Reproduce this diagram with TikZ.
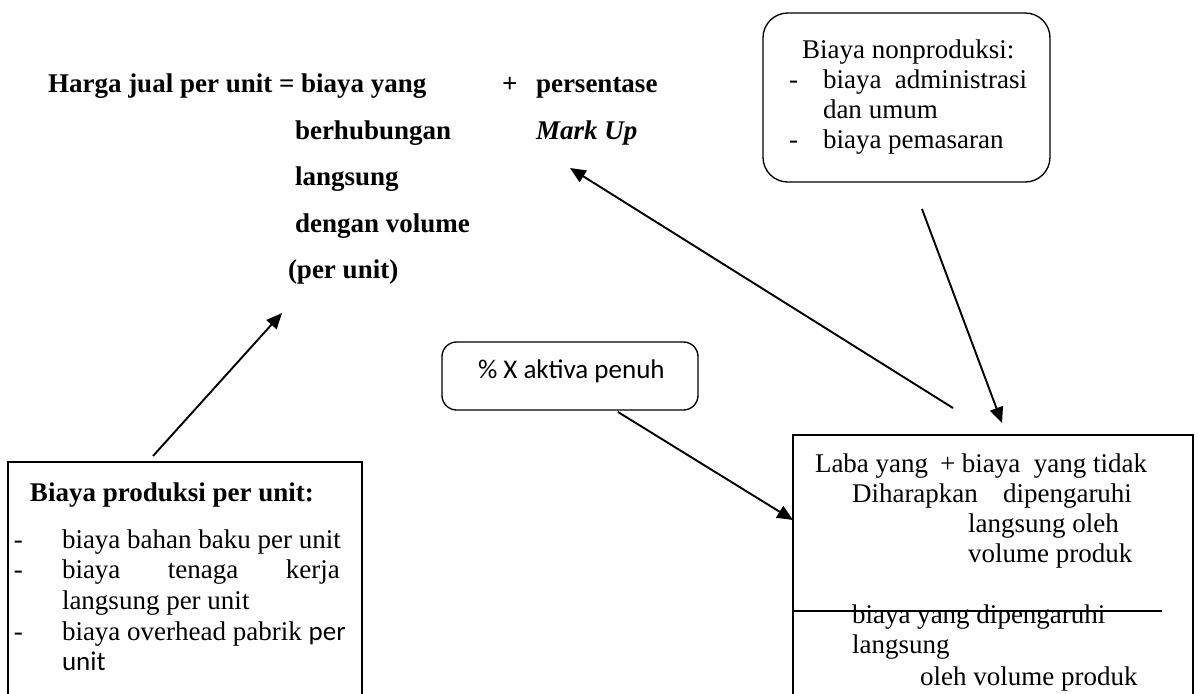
\documentclass[tikz,border=0pt]{standalone}
\usepackage{fontspec}
\setmainfont{Liberation Serif}
\newfontfamily\calfont{Carlito}
\usetikzlibrary{arrows.meta,fit}
\begin{document}
\begin{tikzpicture}[x=0.4444pt,y=-0.4444pt,
  txt/.style={anchor=base west, inner sep=0pt, outer sep=0pt, font=\fontsize{12pt}{13.8pt}\selectfont},
  btxt/.style={anchor=base west, inner sep=0pt, outer sep=0pt, font=\fontsize{12pt}{13.8pt}\selectfont\bfseries},
  bitxt/.style={anchor=base west, inner sep=0pt, outer sep=0pt, font=\fontsize{12pt}{13.8pt}\selectfont\bfseries\itshape},
  ctxt/.style={anchor=base west, inner sep=0pt, outer sep=0pt, font=\calfont\fontsize{12pt}{14pt}\selectfont},
  boxframe/.style={draw, line width=0.6pt, inner sep=0pt},
  rboxa/.style={boxframe, rounded corners=11pt},
  rboxb/.style={boxframe, rounded corners=6.5pt},
  conn/.style={line width=0.85pt, -{Triangle[length=7pt,width=6pt]}},
  divline/.style={line width=0.6pt},
]
\useasboundingbox (0,0) rectangle (1198,693);
\clip (0,0) rectangle (1198,693);

% formula
\node[btxt] (h1) at (48,92) {Harga jual per unit = biaya yang};
\node[btxt] (plus) at (502,92) {+};
\node[btxt] (pers) at (536,92) {persentase};
\node[btxt] (h2) at (295,139) {berhubungan};
\node[bitxt] (mark) at (536,139) {Mark Up};
\node[btxt] (h3) at (295,185) {langsung};
\node[btxt] (h4) at (295,232) {dengan volume};
\node[btxt] (h5) at (288,278) {(per unit)};

% non-production cost box
\node[rboxa, fit={(763,13)(1050,182)}] (nonprod) {};
\node[txt] (np1) at (802,58) {Biaya nonproduksi:};
\node[txt] (np2d) at (789,88) {-};
\node[txt] (np2) at (823,88) {biaya\ \ administrasi};
\node[txt] (np3) at (823,118) {dan umum};
\node[txt] (np4d) at (789,148) {-};
\node[txt] (np4) at (823,148) {biaya pemasaran};

% aktiva box
\node[rboxb, fit={(442,342)(698,410)}] (akt) {};
\node[ctxt] (aktt) at (478,378) {\% X aktiva penuh};

% production cost box
\node[boxframe, fit={(8,462)(362,720)}] (prod) {};
\node[btxt] (pr0) at (30,501) {Biaya produksi per unit:};
\node[txt] (pr1d) at (14,548) {-};
\node[txt] (pr1) at (62,548) {biaya bahan baku per unit};
\node[txt] (pr2d) at (14,578) {-};
\node[txt] (pr2) at (62,578) {\makebox[123.5pt][s]{biaya\hfill tenaga\hfill kerja}};
\node[txt] (pr3) at (62,609) {langsung per unit};
\node[txt] (pr4d) at (14,640) {-};
\node[txt] (pr4) at (62,640) {biaya overhead pabrik {\calfont per}};
\node[ctxt] (pr5) at (62,670) {unit};

% profit box
\node[boxframe, fit={(793,435)(1193,720)}] (laba) {};
\node[txt] (lb1) at (815,472) {Laba yang};
\node[txt] (lb2) at (940,472) {+ biaya\ \ yang tidak};
\node[txt] (lb3) at (852,502) {Diharapkan};
\node[txt] (lb4) at (1003,502) {dipengaruhi};
\node[txt] (lb5) at (968,532) {langsung oleh};
\node[txt] (lb6) at (968,562) {volume produk};
\node[txt] (lb7) at (852,623) {biaya yang dipengaruhi};
\node[txt] (lb8) at (852,653) {langsung};
\node[txt] (lb9) at (920,685) {oleh volume produk};
\coordinate (divL) at (793,611);
\coordinate (divR) at (1162,611);
\draw[divline] (divL) -- (divR);

% connectors
\coordinate (a1s) at (153,456);
\coordinate (a1e) at (282,313);
\coordinate (a2s) at (953,408);
\coordinate (a2e) at (570,168);
\coordinate (a3s) at (922,209);
\coordinate (a3e) at (1002,423);
\coordinate (a4s) at (618,412);
\coordinate (a4e) at (793,520);
\draw[conn] (a1s) -- (a1e);
\draw[conn] (a2s) -- (a2e);
\draw[conn] (a3s) -- (a3e);
\draw[conn] (a4s) -- (a4e);
\end{tikzpicture}
\end{document}
